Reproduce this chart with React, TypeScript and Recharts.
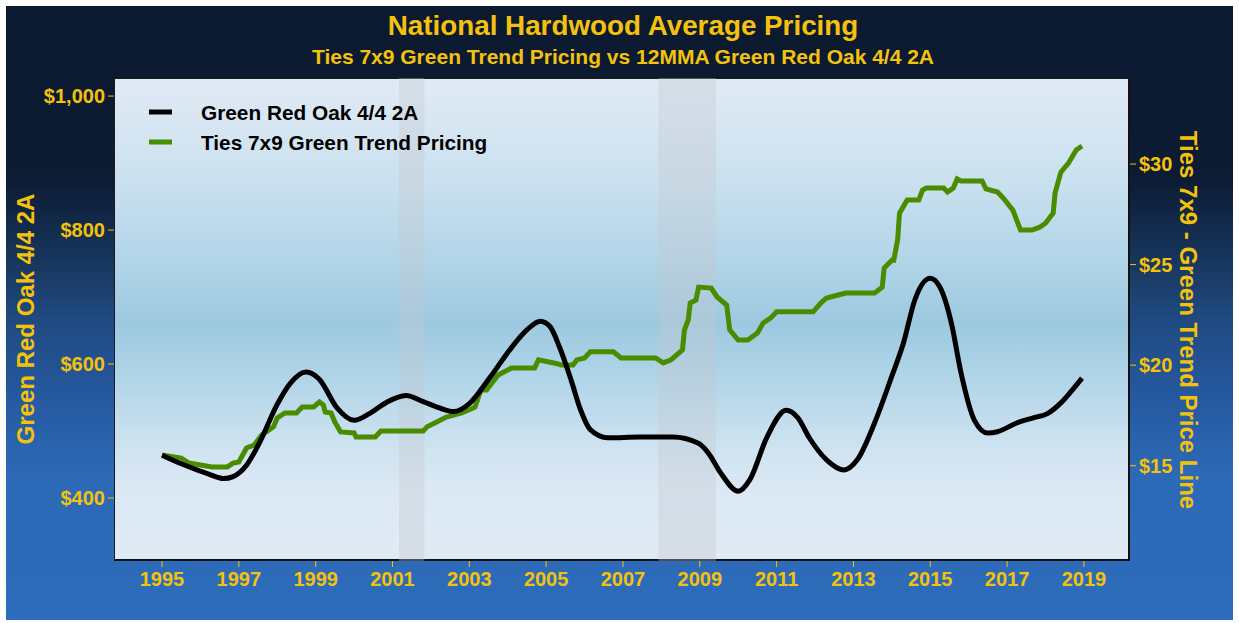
import { LineChart, Line, XAxis, YAxis, ReferenceArea } from "recharts"

const GOLD = "#f4c20d"
const FONT = "'Liberation Sans', Arial, sans-serif"

// Green Red Oak 4/4 2A, 12 month moving average ($/MBF)
const oakYears = [
  1995.0, 1995.55, 1996.2, 1996.6, 1996.85, 1997.2, 1997.55, 1998.0, 1998.35, 1998.75,
  1999.1, 1999.55, 2000.0, 2000.4, 2000.85, 2001.35, 2001.8, 2002.25, 2002.6, 2003.0,
  2003.55, 2004.05, 2004.5, 2004.85, 2005.1, 2005.35, 2005.65, 2005.9, 2006.15, 2006.6,
  2007.45, 2008.3, 2008.95, 2009.2, 2009.55, 2010.0, 2010.3, 2010.75, 2011.25, 2011.55,
  2011.85, 2012.3, 2012.75, 2013.1, 2013.55, 2014.0, 2014.3, 2014.6, 2015.0, 2015.25,
  2015.55, 2015.8, 2016.15, 2016.5, 2016.75, 2017.25, 2017.7, 2018.05, 2018.4, 2018.65,
  2018.95,
]
const oakPrice = [
  464, 450, 436, 429, 432, 449, 484, 540, 572, 588,
  577, 535, 516, 526, 543, 553, 544, 534, 529, 541,
  581, 621, 651, 664, 656, 625, 576, 531, 502, 490,
  491, 491, 482, 469, 437, 410, 427, 491, 531, 520,
  490, 457, 442, 457, 512, 582, 631, 696, 728, 715,
  661, 587, 516, 497, 499, 512, 520, 526, 542, 558,
  579,
]

// Ties 7x9 green trend pricing ($/tie)
const tieYears = [
  1995.0, 1995.5, 1995.7, 1996.3, 1996.7, 1996.85, 1997.0, 1997.2, 1997.4, 1997.6,
  1997.9, 1998.0, 1998.2, 1998.5, 1998.65, 1998.95, 1999.1, 1999.2, 1999.25, 1999.4,
  1999.5, 1999.65, 2000.0, 2000.05, 2000.55, 2000.7, 2001.8, 2001.9, 2002.1, 2002.4,
  2002.8, 2003.1, 2003.15, 2003.3, 2003.45, 2003.75, 2003.85, 2004.1, 2004.7, 2004.8,
  2005.2, 2005.4, 2005.7, 2005.8, 2006.0, 2006.15, 2006.75, 2006.95, 2007.85, 2008.05,
  2008.25, 2008.4, 2008.55, 2008.6, 2008.7, 2008.75, 2008.9, 2008.97, 2009.3, 2009.45,
  2009.7, 2009.78, 2010.0, 2010.25, 2010.5, 2010.65, 2010.85, 2011.0, 2011.95, 2012.15,
  2012.3, 2012.6, 2012.8, 2013.55, 2013.75, 2013.8, 2014.0, 2014.05, 2014.15, 2014.2,
  2014.4, 2014.7, 2014.8, 2014.9, 2015.35, 2015.45, 2015.6, 2015.7, 2015.8, 2016.35,
  2016.45, 2016.75, 2016.9, 2017.15, 2017.25, 2017.35, 2017.65, 2017.85, 2018.0, 2018.2,
  2018.25, 2018.4, 2018.6, 2018.8, 2018.95,
]
const tiePrice = [
  15.53, 15.38, 15.13, 14.94, 14.94, 15.13, 15.18, 15.88, 16.03, 16.53,
  16.93, 17.37, 17.62, 17.62, 17.92, 17.92, 18.17, 18.02, 17.67, 17.62,
  17.17, 16.68, 16.63, 16.43, 16.43, 16.73, 16.73, 16.93, 17.12, 17.42,
  17.62, 17.87, 17.92, 18.77, 18.77, 19.51, 19.61, 19.86, 19.86, 20.26,
  20.11, 20.01, 20.01, 20.26, 20.36, 20.66, 20.66, 20.36, 20.36, 20.11,
  20.26, 20.51, 20.76, 21.75, 22.25, 23.09, 23.24, 23.88, 23.83, 23.39,
  22.99, 21.75, 21.25, 21.25, 21.6, 22.1, 22.35, 22.65, 22.65, 23.09,
  23.34, 23.49, 23.59, 23.59, 23.88, 24.83, 25.22, 25.22, 26.22, 27.56,
  28.21, 28.21, 28.71, 28.81, 28.81, 28.61, 28.81, 29.26, 29.16, 29.16,
  28.76, 28.61, 28.31, 27.71, 27.21, 26.72, 26.72, 26.86, 27.06, 27.56,
  28.56, 29.6, 30.05, 30.7, 30.9,
]

// US recessions
const recessions = [
  [2001.17, 2001.83],
  [2007.92, 2009.42],
]

const yearTicks = [1995, 1997, 1999, 2001, 2003, 2005, 2007, 2009, 2011, 2013, 2015, 2017, 2019]
const oakTicks = [400, 600, 800, 1000]
const tieTicks = [15, 20, 25, 30]

const oakData = oakYears.map((year, i) => ({ year, value: oakPrice[i] }))
const tieData = tieYears.map((year, i) => ({ year, value: tiePrice[i] }))

const series = [
  { name: "Green Red Oak 4/4 2A", color: "#000000" },
  { name: "Ties 7x9 Green Trend Pricing", color: "#4a8c00" },
]

const tickStyle = { fill: GOLD, fontSize: 20, fontWeight: 700, fontFamily: FONT }

export default function App() {
  return (
    <div style={{ position: "relative", width: 1239, height: 623, background: "#fff" }}>
      <style>{`body{margin:0}`}</style>
      <div
        style={{
          position: "absolute",
          left: 6,
          top: 6,
          width: 1227,
          height: 614,
          background:
            "linear-gradient(to bottom, #0c1a30 0%, #0d1b33 28%, #163358 40%, #1f4a80 51%, #2659a0 64%, #2c69b6 76%, #2d6cba 100%)",
        }}
      >
        <div
          style={{
            position: "absolute",
            left: 108,
            top: 72,
            width: 1016,
            height: 483,
            boxSizing: "border-box",
            border: "1px solid #1a1a1a",
            borderRight: "2px solid #111",
            borderBottom: "2px solid #111",
            background:
              "linear-gradient(to bottom, #dfeaf6 0%, #d9e7f3 8%, #c9e0ef 22%, #b4d6e9 36%, #9dc9e0 51%, #b4d6e9 64%, #cde2f0 76%, #dce9f4 86%, #dfeaf5 100%)",
          }}
        />
        <LineChart
          width={1227}
          height={614}
          margin={{ top: 72, right: 0, bottom: 0, left: 0 }}
          style={{ position: "absolute", left: 0, top: 0 }}
        >
          <XAxis
            dataKey="year"
            type="number"
            domain={[1993.75, 2020.2]}
            ticks={yearTicks}
            allowDataOverflow
            height={59}
            axisLine={false}
            tickLine={{ stroke: GOLD }}
            tickSize={6}
            tickMargin={5}
            tick={tickStyle}
            allowDuplicatedCategory={false}
          />
          <YAxis
            yAxisId="left"
            orientation="left"
            type="number"
            domain={[306, 1027]}
            ticks={oakTicks}
            allowDataOverflow
            width={108}
            axisLine={false}
            tickLine={{ stroke: GOLD }}
            tickSize={6}
            tickMargin={3}
            tick={tickStyle}
            tickFormatter={(v: number) => "$" + v.toLocaleString("en-US")}
          />
          <YAxis
            yAxisId="right"
            orientation="right"
            type="number"
            domain={[10.26, 34.28]}
            ticks={tieTicks}
            allowDataOverflow
            width={103}
            axisLine={false}
            tickLine={{ stroke: GOLD }}
            tickSize={6}
            tickMargin={3}
            tick={tickStyle}
            tickFormatter={(v: number) => "$" + v}
          />
          {recessions.map(([a, b]) => (
            <ReferenceArea
              key={a}
              yAxisId="left"
              x1={a}
              x2={b}
              y1={306}
              y2={1027}
              fill="#c4c6cc"
              fillOpacity={0.34}
              stroke="none"
            />
          ))}
          <Line
            yAxisId="right"
            data={tieData}
            dataKey="value"
            type="linear"
            stroke={series[1].color}
            strokeWidth={5}
            dot={false}
            isAnimationActive={false}
          />
          <Line
            yAxisId="left"
            data={oakData}
            dataKey="value"
            type="monotone"
            stroke={series[0].color}
            strokeWidth={5}
            dot={false}
            isAnimationActive={false}
          />
        </LineChart>
        <svg
          width={1227}
          height={614}
          style={{ position: "absolute", left: 0, top: 0, pointerEvents: "none" }}
          fontFamily={FONT}
          fontWeight={700}
        >
          <text x={617} y={29} textAnchor="middle" fill={GOLD} fontSize={27.8}>
            National Hardwood Average Pricing
          </text>
          <text x={617} y={58} textAnchor="middle" fill={GOLD} fontSize={21}>
            Ties 7x9 Green Trend Pricing vs 12MMA Green Red Oak 4/4 2A
          </text>
          <text
            x={19}
            y={313}
            textAnchor="middle"
            dominantBaseline="central"
            fill={GOLD}
            fontSize={24}
            transform="rotate(-90 19 313)"
          >
            Green Red Oak 4/4 2A
          </text>
          <text
            x={1182}
            y={314}
            textAnchor="middle"
            dominantBaseline="central"
            fill={GOLD}
            fontSize={24}
            transform="rotate(90 1182 314)"
          >
            Ties 7x9 - Green Trend Price Line
          </text>
          {series.map((s, i) => (
            <g key={s.name}>
              <line x1={143} x2={166} y1={106 + i * 30} y2={106 + i * 30} stroke={s.color} strokeWidth={5} />
              <text x={195} y={106 + i * 30} dominantBaseline="central" fill="#000" fontSize={20.8}>
                {s.name}
              </text>
            </g>
          ))}
        </svg>
      </div>
    </div>
  )
}
